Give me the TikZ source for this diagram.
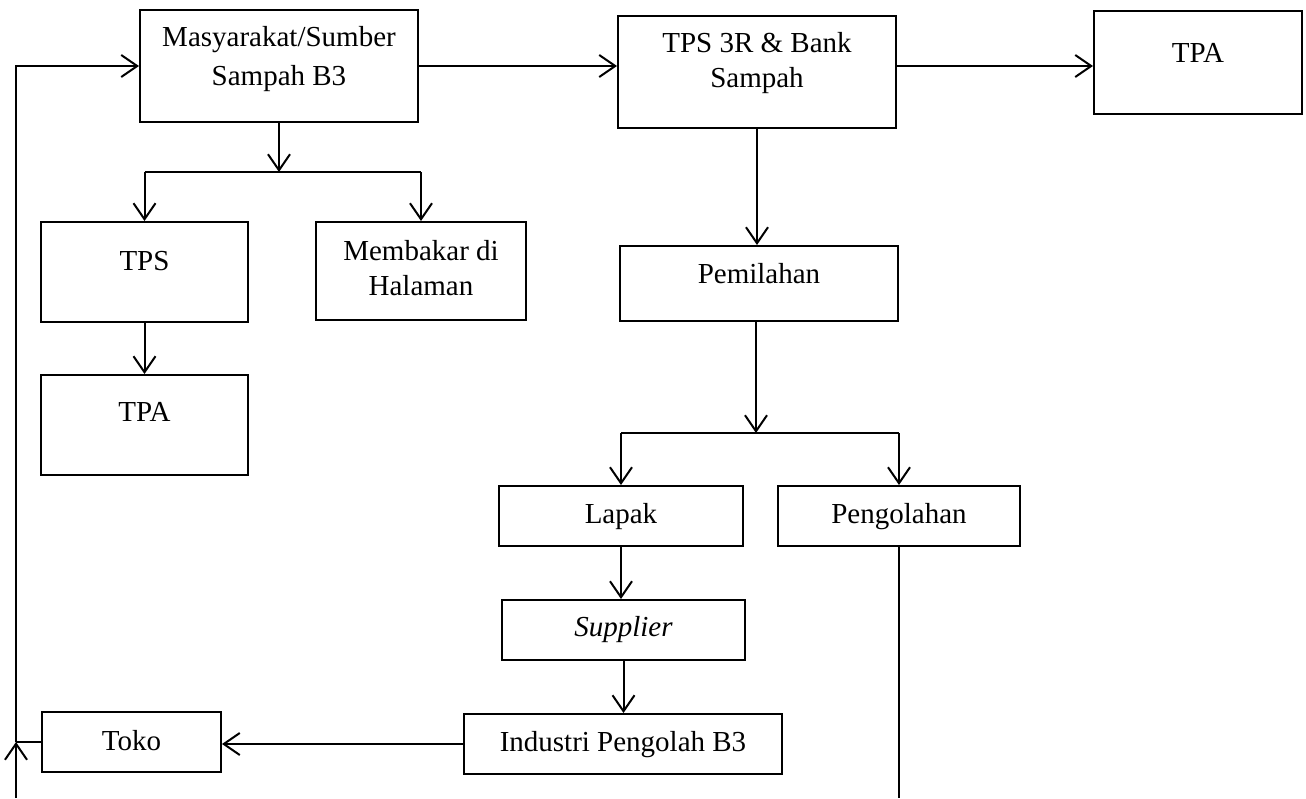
\documentclass[tikz,border=0pt]{standalone}
\usepackage{fontspec}
\setmainfont{Liberation Serif}
\usetikzlibrary{arrows.meta}
\newcommand{\isikotak}[4]{\parbox[c][#2][t]{#1}{\centering\rule{0pt}{#3}#4}}

\begin{document}
\begin{tikzpicture}[x=0.5pt,y=-0.5pt]
          \tikzstyle{every node}=[draw,line width=1pt,inner sep=0pt,font=\fontsize{14.5}{17.5}\selectfont];
          \tikzstyle{panah}=[line width=1pt,-{Straight Barb[length=8pt,width=11pt]}];
          \tikzstyle{garis}=[line width=1pt];
          \useasboundingbox (0,0) rectangle (1306,798);
          %\node (name) at (x,y) {\isikotak{width}{height}{baseline}{text}};
          \node (masy) at (279,66) {\isikotak{139pt}{56pt}{18.3pt}{Masyarakat/Sumber\\[2pt]Sampah B3}};
          \node (tps3r) at (757,72) {\isikotak{139pt}{56pt}{18.3pt}{TPS 3R \& Bank\\Sampah}};
          \node (tpaA) at (1198,62) {\isikotak{104pt}{51.5pt}{25.8pt}{TPA}};
          \node (tps) at (144.5,272) {\isikotak{103.5pt}{50pt}{24pt}{TPS}};
          \node (bakar) at (421,271) {\isikotak{105pt}{49pt}{19pt}{Membakar di\\Halaman}};
          \node (tpaB) at (144.5,425) {\isikotak{103.5pt}{50pt}{23pt}{TPA}};
          \node (pilah) at (759,283.5) {\isikotak{139pt}{37.5pt}{18.8pt}{Pemilahan}};
          \node (lapak) at (621,516) {\isikotak{122pt}{30pt}{18.7pt}{Lapak}};
          \node (olah) at (899,516) {\isikotak{121pt}{30pt}{18.7pt}{Pengolahan}};
          \node (supp) at (623.5,630) {\isikotak{121.5pt}{30pt}{18.3pt}{\textit{Supplier}}};
          \node (ind) at (623,744) {\isikotak{159pt}{30pt}{18.8pt}{Industri Pengolah B3}};
          \node (toko) at (131.5,742) {\isikotak{89.5pt}{30pt}{19pt}{Toko}};
          %\draw [option] ...
          \coordinate (cab1) at (279,172);
          \coordinate (cab2) at (756,433);
          \coordinate (kiri) at (16,742);
          \coordinate (bawah) at (16,798);
          \draw[panah] (masy.east)--(masy.east -| tps3r.west);
          \draw[panah] (tps3r.east |- masy.east)--(tpaA.west |- masy.east);
          \draw[panah] (masy.south)--(cab1);
          \draw[garis] (cab1 -| tps.north)--(cab1 -| bakar.north);
          \draw[panah] (cab1 -| tps.north)--(tps.north);
          \draw[panah] (cab1 -| bakar.north)--(bakar.north);
          \draw[panah] (tps.south)--(tpaB.north);
          \draw[panah] (tps3r.south)--(tps3r.south |- pilah.north);
          \draw[panah] (pilah.south -| cab2)--(cab2);
          \draw[garis] (cab2 -| lapak.north)--(cab2 -| olah.north);
          \draw[panah] (cab2 -| lapak.north)--(lapak.north);
          \draw[panah] (cab2 -| olah.north)--(olah.north);
          \draw[panah] (lapak.south)--(lapak.south |- supp.north);
          \draw[panah] (supp.south)--(supp.south |- ind.north);
          \draw[panah] (ind.west)--(ind.west -| toko.east);
          \draw[garis] (toko.west)--(kiri);
          \draw[panah] (bawah)--(kiri);
          \draw[panah] (kiri) |- (masy.west);
          \draw[garis] (olah.south)--(olah.south |- bawah);
      \end{tikzpicture}
\end{document}
